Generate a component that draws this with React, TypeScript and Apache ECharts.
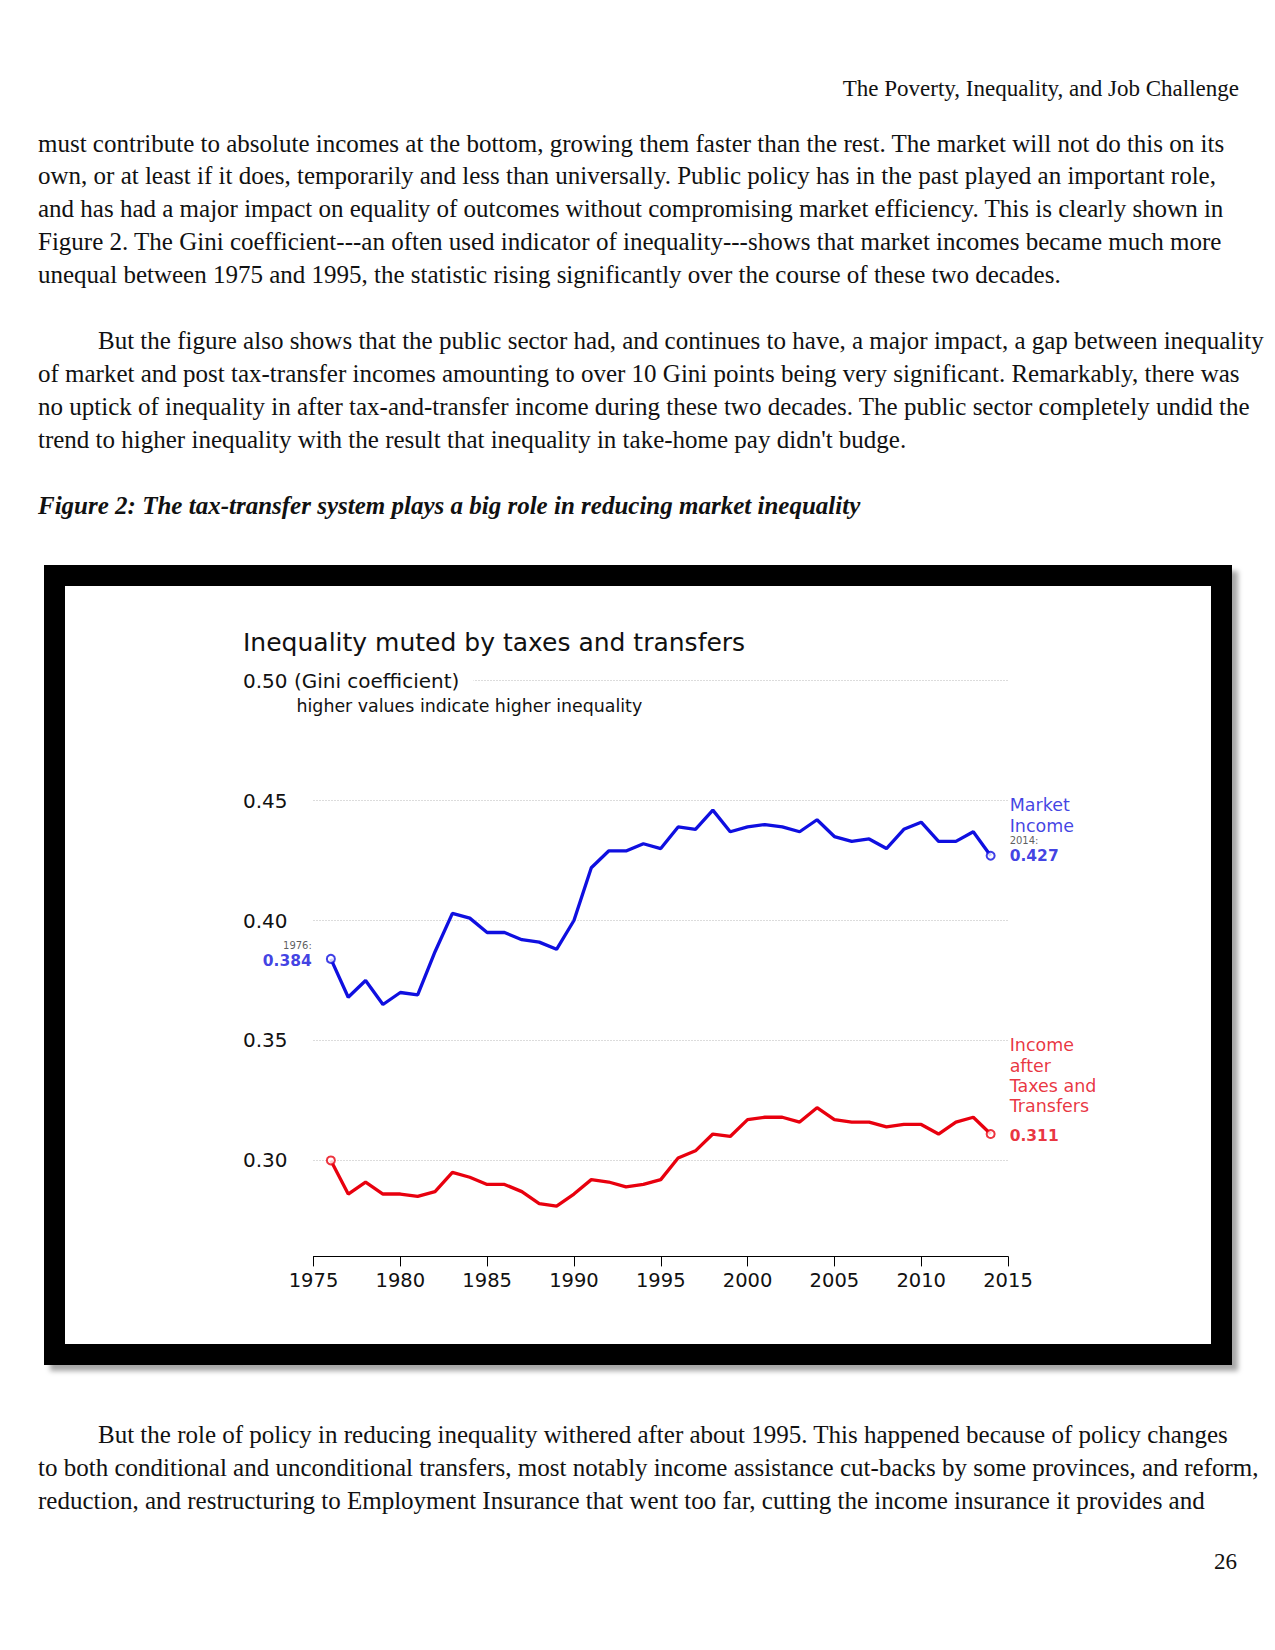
import React, { useEffect, useRef } from "react";
import * as echarts from "echarts";

// ---------- data ----------
const years = [
  1976, 1977, 1978, 1979, 1980, 1981, 1982, 1983, 1984, 1985, 1986, 1987, 1988,
  1989, 1990, 1991, 1992, 1993, 1994, 1995, 1996, 1997, 1998, 1999, 2000, 2001,
  2002, 2003, 2004, 2005, 2006, 2007, 2008, 2009, 2010, 2011, 2012, 2013, 2014,
];
const marketIncome = [
  0.384, 0.368, 0.375, 0.365, 0.37, 0.369, 0.387, 0.403, 0.401, 0.395, 0.395,
  0.392, 0.391, 0.388, 0.4, 0.422, 0.429, 0.429, 0.432, 0.43, 0.439, 0.438,
  0.446, 0.437, 0.439, 0.44, 0.439, 0.437, 0.442, 0.435, 0.433, 0.434, 0.43,
  0.438, 0.441, 0.433, 0.433, 0.437, 0.427,
];
const afterTaxIncome = [
  0.3, 0.286, 0.291, 0.286, 0.286, 0.285, 0.287, 0.295, 0.293, 0.29, 0.29,
  0.287, 0.282, 0.281, 0.286, 0.292, 0.291, 0.289, 0.29, 0.292, 0.301, 0.304,
  0.311, 0.31, 0.317, 0.318, 0.318, 0.316, 0.322, 0.317, 0.316, 0.316, 0.314,
  0.315, 0.315, 0.311, 0.316, 0.318, 0.311,
];
const yTickValues = [0.3, 0.35, 0.4, 0.45, 0.5];
const xMin = 1975;
const xMax = 2015;
const xStep = 5;
const yMin = 0.26;
const yMax = 0.5;

const chartTitle = "Inequality muted by taxes and transfers";
const yUnit = "(Gini coefficient)";
const subTitle = "higher values indicate higher inequality";
const marketName = ["Market", "Income"];
const afterName = ["Income", "after", "Taxes and", "Transfers"];

const para1 = [
  "must contribute to absolute incomes at the bottom, growing them faster than the rest. The market will not do this on its",
  "own, or at least if it does, temporarily and less than universally. Public policy has in the past played an important role,",
  "and has had a major impact on equality of outcomes without compromising market efficiency. This is clearly shown in",
  "Figure 2. The Gini coefficient---an often used indicator of inequality---shows that market incomes became much more",
  "unequal between 1975 and 1995, the statistic rising significantly over the course of these two decades.",
];
const para2 = [
  "But the figure also shows that the public sector had, and continues to have, a major impact, a gap between inequality",
  "of market and post tax-transfer incomes amounting to over 10 Gini points being very significant. Remarkably, there was",
  "no uptick of inequality in after tax-and-transfer income during these two decades. The public sector completely undid the",
  "trend to higher inequality with the result that inequality in take-home pay didn't budge.",
];
const caption =
  "Figure 2: The tax-transfer system plays a big role in reducing market inequality";
const para3 = [
  "But the role of policy in reducing inequality withered after about 1995. This happened because of policy changes",
  "to both conditional and unconditional transfers, most notably income assistance cut-backs by some provinces, and reform,",
  "reduction, and restructuring to Employment Insurance that went too far, cutting the income insurance it provides and",
];
const header = "The Poverty, Inequality, and Job Challenge";
const pageNumber = "26";

// ---------- styles ----------
const BLUE = "#0f0fe0";
const BLUE_TEXT = "#1010dc";
const RED = "#e8000e";
const RED_TEXT = "#e4000e";
const SANS = "DejaVu Sans";

function Chart() {
  const ref = useRef<HTMLDivElement>(null);
  useEffect(() => {
    if (!ref.current) return;
    const chart = echarts.init(ref.current, undefined, { renderer: "svg" });
    const last = years.length - 1;
    const fmt = (v: number) => v.toFixed(3);
    const option: any = {
      animation: false,
      backgroundColor: "#ffffff",
      grid: {
        left: 248.5,
        right: 203,
        top: 94.6,
        bottom: 87.6,
        containLabel: false,
        outerBoundsMode: "none",
      },
      graphic: [
        {
          type: "text",
          left: 178,
          top: 44,
          style: {
            text: chartTitle,
            fontFamily: SANS,
            fontSize: 25,
            fill: "#111",
          },
        },
        {
          type: "text",
          left: 231.5,
          top: 111,
          style: {
            text: subTitle,
            fontFamily: SANS,
            fontSize: 17.4,
            fill: "#111",
          },
        },
      ],
      xAxis: {
        type: "value",
        min: xMin,
        max: xMax,
        interval: xStep,
        axisLine: { show: true, lineStyle: { color: "#000", width: 1 } },
        axisTick: { show: true, length: 10, lineStyle: { color: "#000", width: 1 } },
        axisLabel: {
          margin: 14,
          fontFamily: SANS,
          fontSize: 19.5,
          color: "#111",
          formatter: (v: number) => String(v),
        },
        splitLine: { show: false },
      },
      yAxis: {
        type: "value",
        min: yMin,
        max: yMax,
        axisLine: { show: false },
        axisTick: { show: false, customValues: yTickValues },
        axisLabel: {
          customValues: yTickValues,
          align: "left",
          margin: 70.5,
          fontFamily: SANS,
          fontSize: 20,
          color: "#111",
          backgroundColor: "#ffffff",
          padding: [2, 14, 2, 0],
          formatter: (v: number) =>
            Math.abs(v - yMax) < 1e-9 ? v.toFixed(2) + " " + yUnit : v.toFixed(2),
        },
        splitLine: {
          show: true,
          lineStyle: { color: "#b8b8b8", type: [1, 2], width: 1 },
        },
      },
      series: [
        {
          name: "Market Income",
          type: "line",
          data: years.map((y, i) => [y, marketIncome[i]]),
          symbol: "none",
          showSymbol: false,
          lineStyle: { color: BLUE, width: 3.3 },
          z: 3,
        },
        {
          name: "Income after Taxes and Transfers",
          type: "line",
          data: years.map((y, i) => [y, afterTaxIncome[i]]),
          symbol: "none",
          showSymbol: false,
          lineStyle: { color: RED, width: 3.3 },
          z: 3,
        },
        {
          type: "scatter",
          symbol: "circle",
          symbolSize: 8,
          itemStyle: { color: "#ffffff", borderColor: BLUE, borderWidth: 2 },
          z: 5,
          data: [
            {
              value: [years[0], marketIncome[0]],
              label: {
                show: true,
                position: "left",
                distance: 14,
                offset: [0, -3],
                align: "right",
                formatter: (p: any) =>
                  "{s|" + p.value[0] + ":}\n{b|" + fmt(p.value[1]) + "}",
                rich: {
                  s: { fontFamily: SANS, fontSize: 10, lineHeight: 11, color: "#333", align: "right" },
                  b: { fontFamily: SANS, fontSize: 15.5, fontWeight: "bold", lineHeight: 20, color: BLUE_TEXT, align: "right" },
                },
              },
            },
            {
              value: [years[last], marketIncome[last]],
              label: {
                show: true,
                position: "right",
                distance: 14,
                offset: [0, -24],
                align: "left",
                formatter: (p: any) =>
                  marketName.map((t) => "{m|" + t + "}").join("\n") +
                  "\n{s|" + p.value[0] + ":}\n{b|" + fmt(p.value[1]) + "}",
                rich: {
                  m: { fontFamily: SANS, fontSize: 17.5, lineHeight: 21, color: BLUE_TEXT },
                  s: { fontFamily: SANS, fontSize: 10, lineHeight: 7, color: "#333" },
                  b: { fontFamily: SANS, fontSize: 15.5, fontWeight: "bold", lineHeight: 25, color: BLUE_TEXT },
                },
              },
            },
          ],
        },
        {
          type: "scatter",
          symbol: "circle",
          symbolSize: 8,
          itemStyle: { color: "#ffffff", borderColor: RED, borderWidth: 2 },
          z: 5,
          data: [
            { value: [years[0], afterTaxIncome[0]] },
            {
              value: [years[last], afterTaxIncome[last]],
              label: {
                show: true,
                position: "right",
                distance: 14,
                offset: [0, -38.5],
                align: "left",
                formatter: (p: any) =>
                  afterName.map((t) => "{m|" + t + "}").join("\n") +
                  "\n{b|" + fmt(p.value[1]) + "}",
                rich: {
                  m: { fontFamily: SANS, fontSize: 17.5, lineHeight: 20.3, color: RED_TEXT },
                  b: { fontFamily: SANS, fontSize: 15.5, fontWeight: "bold", lineHeight: 39.7, color: RED_TEXT },
                },
              },
            },
          ],
        },
      ],
    };
    chart.setOption(option);
    return () => chart.dispose();
  }, []);
  return (
    <div
      ref={ref}
      style={{ position: "absolute", left: 21, top: 21, width: 1146, height: 758, background: "#fff" }}
    />
  );
}

const BODY_FS = 25;
const LH = 33;
const BASE_OFF = 24.9; // baseline offset within a 33px line box at 25px

function Line({ text, baseline, indent = 0, style = {} }: { text: string; baseline: number; indent?: number; style?: any }) {
  return (
    <div
      style={{
        position: "absolute",
        left: 38 + indent,
        top: baseline - BASE_OFF,
        fontSize: BODY_FS,
        lineHeight: LH + "px",
        whiteSpace: "nowrap",
        color: "#111",
        ...style,
      }}
    >
      {text}
    </div>
  );
}

export default function App() {
  const p1Base = [151.5, 184.3, 217.1, 249.9, 282.7];
  const p2Base = [349, 382, 415, 448];
  const p3Base = [1442.5, 1475.5, 1508.5];
  return (
    <div
      style={{
        position: "absolute",
        left: 0,
        top: 0,
        width: 1275,
        height: 1650,
        background: "#fff",
        fontFamily: "'Liberation Serif', 'Times New Roman', serif",
        overflow: "hidden",
      }}
    >
      <div
        style={{
          position: "absolute",
          right: 36,
          top: 72.4,
          fontSize: 23,
          lineHeight: LH + "px",
          whiteSpace: "nowrap",
          color: "#111",
        }}
      >
        {header}
      </div>
      {para1.map((t, i) => (
        <Line key={"a" + i} text={t} baseline={p1Base[i]} />
      ))}
      {para2.map((t, i) => (
        <Line key={"b" + i} text={t} baseline={p2Base[i]} indent={i === 0 ? 60 : 0} />
      ))}
      <Line text={caption} baseline={514} style={{ fontWeight: "bold", fontStyle: "italic" }} />
      <div
        style={{
          position: "absolute",
          left: 44,
          top: 565,
          width: 1188,
          height: 800,
          background: "#000",
          boxShadow: "6px 6px 5px rgba(0,0,0,0.35)",
        }}
      >
        <Chart />
      </div>
      {para3.map((t, i) => (
        <Line key={"c" + i} text={t} baseline={p3Base[i]} indent={i === 0 ? 60 : 0} />
      ))}
      <div
        style={{
          position: "absolute",
          right: 38,
          top: 1569 - 24.3,
          fontSize: 23,
          lineHeight: LH + "px",
          color: "#111",
        }}
      >
        {pageNumber}
      </div>
    </div>
  );
}
